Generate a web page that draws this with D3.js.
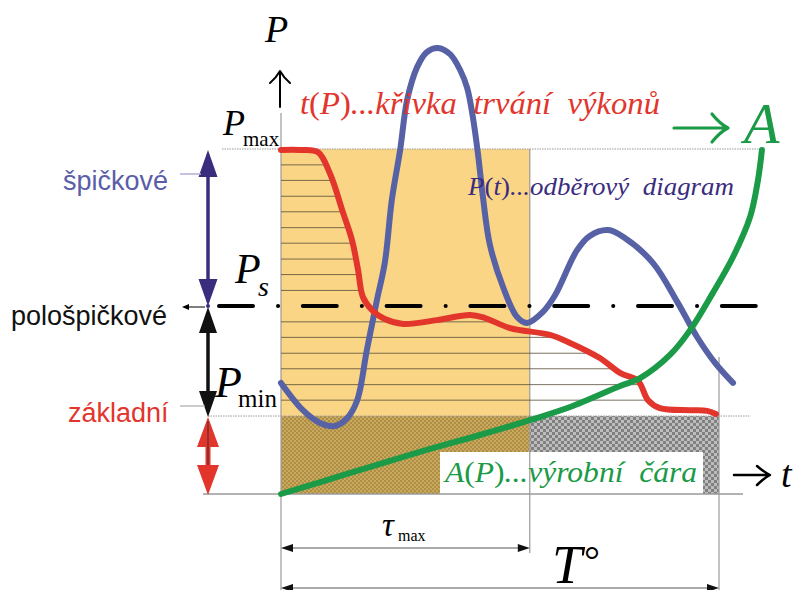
<!DOCTYPE html>
<html><head><meta charset="utf-8">
<script src="https://cdn.jsdelivr.net/npm/d3@7"></script>
<style>
html,body{margin:0;padding:0;background:#fff;}
svg{display:block;}
text{white-space:pre;}
</style></head><body>
<svg id="chart" width="797" height="590"></svg>
<script>
// Power in % of Pmax, time in % of the period T
const P_MAX = 100, P_S = 54.5, P_MIN = 22.6;
const TAU_MAX = 56.8, T_PERIOD = 100;

// t(P) – load duration curve
const durationCurve = [
  [0,99.7],[4.3,99.7],[8.4,99.1],[11.2,92.8],[14.2,81.4],[16.2,73.6],[17.6,64.9],
  [18.7,57.1],[20.8,53.3],[23.7,50.7],[27.9,49.3],[35.6,50.4],[43.2,51.9],[46.6,51.0],
  [52.3,48.1],[61.4,46.1],[66.0,43.8],[72.8,39.4],[77.4,35.1],[81.5,32.8],[83.8,27.2],
  [86.5,24.9],[93.4,24.3],[97.3,24.1],[99.3,23.2]
];
// P(t) – load diagram
const loadCurve = [
  [0,32.2],[5.0,24.3],[8.9,20.6],[12.3,19.7],[15.1,22.0],[17.4,27.2],[19.6,41.7],
  [21.9,56.2],[23.7,67.0],[25.3,85.2],[27.2,99.7],[28.8,114.2],[31.1,123.8],[33.3,128.1],
  [35.8,129.3],[38.6,127.5],[40.9,122.9],[42.5,117.7],[43.8,109.3],[45.0,98.3],
  [46.1,86.1],[47.7,72.2],[50.7,60.0],[53.9,51.3],[56.2,49.6],[59.8,52.8],[62.6,57.7],
  [67.6,70.7],[70.5,74.8],[74.7,76.5],[78.5,74.2],[84.9,67.0],[90.6,55.4],[95.0,45.5],
  [99.1,38.0],[103.2,32.2]
];
// A(P) – energy (production) line
const energyCurve = [
  [0,0],[15.8,6.1],[31.7,12.2],[45.4,17.1],[56.8,21.4],[66.0,25.2],[77.4,31.3],
  [82.0,33.6],[88.8,40.3],[93.4,47.5],[98.6,58.3],[103.2,68.7],[107.1,80.3],
  [108.9,91.0],[109.8,99.7]
];
// power levels of the duration steps
const stepLevels = [95.4,90.9,86.3,81.8,77.2,72.7,68.1,63.6,59.0,49.9,45.4,40.8,36.3,31.7,27.2];

const svg = d3.select("#chart");
const x = d3.scaleLinear().domain([0, T_PERIOD]).range([281, 719]);
const y = d3.scaleLinear().domain([0, P_MAX]).range([494, 149]);

const SERIF = "'Liberation Serif','Times New Roman',serif";
const SANS = "'Liberation Sans',Arial,sans-serif";
const RED = "#e2352c", BLUE = "#5661a6", GREEN = "#1b9a47", PURPLE = "#3b2c7e";

// checker patterns
const defs = svg.append("defs");
function checker(id, s, light, dark) {
  const p = defs.append("pattern").attr("id", id).attr("patternUnits", "userSpaceOnUse")
    .attr("width", 2 * s).attr("height", 2 * s);
  p.append("rect").attr("width", 2 * s).attr("height", 2 * s).attr("fill", light);
  p.append("rect").attr("width", s).attr("height", s).attr("fill", dark);
  p.append("rect").attr("x", s).attr("y", s).attr("width", s).attr("height", s).attr("fill", dark);
}
checker("gold", 2, "#caa95b", "#ad8e48");
checker("grey", 3, "#bdbdbd", "#808080");

// areas
svg.append("rect").attr("x", x(0)).attr("y", y(P_MAX))
  .attr("width", x(TAU_MAX) - x(0)).attr("height", y(P_MIN) - y(P_MAX)).attr("fill", "#f9d585");
svg.append("rect").attr("x", x(0)).attr("y", y(P_MIN))
  .attr("width", x(TAU_MAX) - x(0)).attr("height", y(0) - y(P_MIN)).attr("fill", "url(#gold)");
svg.append("rect").attr("x", x(TAU_MAX)).attr("y", y(P_MIN))
  .attr("width", x(T_PERIOD) - x(TAU_MAX)).attr("height", y(0) - y(P_MIN)).attr("fill", "url(#grey)");
// label backdrop
svg.append("rect").attr("x", 440).attr("y", 452).attr("width", 263).attr("height", y(0) - 452).attr("fill", "#fff");

// guide lines
const guides = svg.append("g").attr("stroke", "#9a9a9a").attr("fill", "none");
guides.append("line").attr("x1", 222).attr("x2", 763).attr("y1", y(P_MAX)).attr("y2", y(P_MAX))
  .attr("stroke-width", 1).attr("stroke-dasharray", "1.5 1");
guides.append("line").attr("x1", 208).attr("x2", 750).attr("y1", y(P_MIN)).attr("y2", y(P_MIN))
  .attr("stroke-width", 1).attr("stroke-dasharray", "1.5 1");
guides.append("line").attr("x1", 203).attr("x2", 743).attr("y1", y(0)).attr("y2", y(0)).attr("stroke-width", 1.5);
guides.append("line").attr("x1", x(0)).attr("x2", x(0)).attr("y1", 113).attr("y2", 590).attr("stroke-width", 1.2);
guides.append("line").attr("x1", x(TAU_MAX)).attr("x2", x(TAU_MAX)).attr("y1", y(P_MAX)).attr("y2", 553).attr("stroke-width", 1.2);
guides.append("line").attr("x1", x(T_PERIOD)).attr("x2", x(T_PERIOD)).attr("y1", 357).attr("y2", 590).attr("stroke-width", 1.2);

const line = d3.line().x(d => x(d[0])).y(d => y(d[1])).curve(d3.curveCatmullRom.alpha(0.5));

// duration curve path (drawn later, measured now for the steps)
const durPath = svg.append("path").attr("d", line(durationCurve)).attr("fill", "none").attr("stroke", "none");
const node = durPath.node();
const total = node.getTotalLength();
const samples = d3.range(0, total + 0.5, 0.5).map(l => node.getPointAtLength(Math.min(l, total)));
function stepEnd(py) {
  for (let i = samples.length - 1; i > 0; i--) {
    const a = samples[i - 1], b = samples[i];
    if ((a.y - py) * (b.y - py) <= 0 && a.y !== b.y) {
      return a.x + (py - a.y) / (b.y - a.y) * (b.x - a.x);
    }
  }
  return x(0);
}
svg.append("g").attr("stroke", "#5b4f3a").attr("stroke-width", 1).attr("opacity", 0.8)
  .selectAll("line").data(stepLevels).join("line")
  .attr("x1", x(0)).attr("x2", d => stepEnd(y(d)))
  .attr("y1", d => y(d)).attr("y2", d => y(d));

// Ps dash-dot line
svg.append("line").attr("x1", 219).attr("x2", 756).attr("y1", y(P_S)).attr("y2", y(P_S))
  .attr("stroke", "#000").attr("stroke-width", 4).attr("stroke-linecap", "round")
  .attr("stroke-dasharray", "34 25 0.1 24.7");

// curves
svg.append("path").attr("d", line(loadCurve)).attr("fill", "none").attr("stroke", BLUE)
  .attr("stroke-width", 6).attr("stroke-linecap", "round");
durPath.raise().attr("stroke", RED).attr("stroke-width", 6).attr("stroke-linecap", "round");
svg.append("path").attr("d", line(energyCurve)).attr("fill", "none").attr("stroke", GREEN)
  .attr("stroke-width", 6).attr("stroke-linecap", "round");

// double arrows on the left
function doubleArrow(cx, y1, y2, color, head, hw, sw) {
  const g = svg.append("g").attr("fill", color);
  g.append("line").attr("x1", cx).attr("x2", cx).attr("y1", y1 + head - 2).attr("y2", y2 - head + 2)
    .attr("stroke", color).attr("stroke-width", sw);
  g.append("path").attr("d", `M${cx},${y1} L${cx + hw},${y1 + head} L${cx - hw},${y1 + head}Z`);
  g.append("path").attr("d", `M${cx},${y2} L${cx + hw},${y2 - head} L${cx - hw},${y2 - head}Z`);
}
doubleArrow(208, y(P_MAX) + 1, y(P_S), PURPLE, 27, 9.5, 3.5);
doubleArrow(208, y(P_S) + 1, y(P_MIN) + 1, "#111", 26, 9, 3.5);
doubleArrow(208, y(P_MIN) + 1, y(0) + 1, RED, 30, 11, 5);
svg.append("line").attr("x1", 208).attr("x2", 208).attr("y1", 421).attr("y2", 465)
  .attr("stroke", "#333").attr("stroke-width", 1);
svg.append("circle").attr("cx", 208).attr("cy", y(P_S)).attr("r", 2).attr("fill", PURPLE);

// leaders
svg.append("line").attr("x1", 180).attr("x2", 201).attr("y1", 174).attr("y2", 174)
  .attr("stroke", "#b5add6").attr("stroke-width", 1.5);
svg.append("line").attr("x1", 188).attr("x2", 205).attr("y1", 307).attr("y2", 307)
  .attr("stroke", "#000").attr("stroke-width", 1);
svg.append("path").attr("d", "M182,307 L189,304 L189,310Z").attr("fill", "#000");
svg.append("line").attr("x1", 180).attr("x2", 205).attr("y1", 406).attr("y2", 406)
  .attr("stroke", "#aaa").attr("stroke-width", 1.2);

// dimension lines
function dimension(x1, x2, yy) {
  const g = svg.append("g");
  g.append("line").attr("x1", x1 + 4).attr("x2", x2 - 4).attr("y1", yy).attr("y2", yy)
    .attr("stroke", "#555").attr("stroke-width", 1);
  g.append("path").attr("d", `M${x1},${yy} L${x1 + 12},${yy - 4} L${x1 + 12},${yy + 4}Z`).attr("fill", "#111");
  g.append("path").attr("d", `M${x2},${yy} L${x2 - 12},${yy - 4} L${x2 - 12},${yy + 4}Z`).attr("fill", "#111");
}
dimension(x(0), x(TAU_MAX), 548);
dimension(x(0), x(T_PERIOD), 588);

// arrows of the axes
const arrows = svg.append("g").attr("fill", "none").attr("stroke-linecap", "round").attr("stroke-linejoin", "round");
arrows.append("path").attr("d", "M280,107 L280,72 M270,83 Q276,78 280,71 Q284,78 290,83")
  .attr("stroke", "#000").attr("stroke-width", 2);
arrows.append("path").attr("d", "M674,128 L727,128 M712,114 Q720,124 728,128 Q720,132 712,142")
  .attr("stroke", GREEN).attr("stroke-width", 3.2);
arrows.append("path").attr("d", "M734,475 L769,475 M757,466 Q764,472 770,475 Q764,478 757,485")
  .attr("stroke", "#000").attr("stroke-width", 2.5);

// texts
function rich(xp, yp, size, color, parts, len) {
  const t = svg.append("text").attr("x", xp).attr("y", yp).attr("font-family", SERIF)
    .attr("font-size", size).attr("fill", color);
  parts.forEach(([s, it]) => t.append("tspan").text(s).attr("font-style", it ? "italic" : "normal"));
  if (len) t.attr("textLength", len).attr("lengthAdjust", "spacingAndGlyphs");
  return t;
}
function plain(xp, yp, size, color, s, italic, family) {
  return svg.append("text").attr("x", xp).attr("y", yp).attr("font-family", family || SERIF)
    .attr("font-size", size).attr("fill", color).attr("font-style", italic ? "italic" : "normal").text(s);
}

plain(265, 42, 38, "#000", "P", true);
plain(223, 135, 36, "#000", "P", true);
plain(243, 146, 21, "#000", "max", false);
plain(235, 283, 42, "#000", "P", true);
plain(258, 296, 28, "#000", "s", true);
plain(215, 397, 44, "#000", "P", true);
plain(238, 407, 25, "#000", "min", false);

rich(300, 114, 32, RED, [["t",1],["(",0],["P",1],[")",0],["...křivka  trvání  výkonů",1]], 360);
rich(468, 195, 26, PURPLE, [["P",1],["(",0],["t",1],[")",0],["...odběrový  diagram",1]], 266);
rich(445, 482, 29, GREEN, [["A",1],["(",0],["P",1],[")",0],["...výrobní  čára",1]], 252);

plain(744, 143, 58, GREEN, "A", true);
plain(781, 487, 38, "#000", "t", true);
plain(382, 536, 33, "#000", "τ", true);
plain(398, 541, 16, "#000", "max", false);
plain(552, 583, 54, "#000", "T", true);
plain(584, 574, 40, "#000", "°", false);

plain(63, 190, 27, "#5a5ea9", "špičkové", false, SANS);
plain(11, 325, 27, "#111", "pološpičkové", false, SANS);
plain(68, 422, 27, RED, "základní", false, SANS);
</script>
</body></html>
